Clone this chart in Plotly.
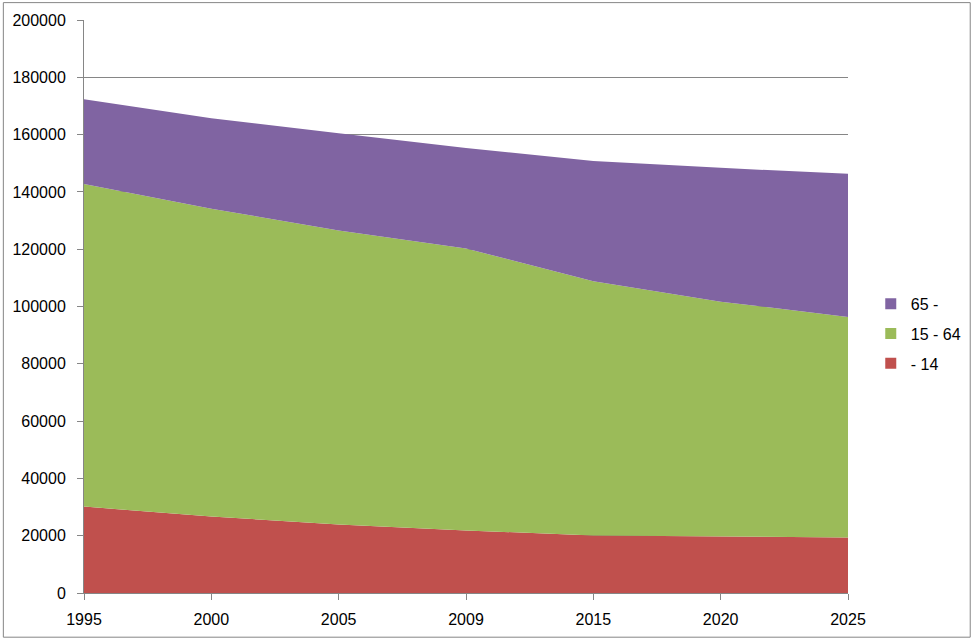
import plotly.graph_objects as go

years = ["1995", "2000", "2005", "2009", "2015", "2020", "2025"]
age_0_14 = [30150, 26700, 23900, 21850, 20100, 19750, 19400]
age_15_64 = [112650, 107450, 102600, 98400, 88700, 81950, 76950]
age_65 = [29500, 31550, 34000, 35050, 42000, 46700, 49950]
series_names = ["- 14", "15 - 64", "65 -"]
colors = ["#C0504D", "#9BBB59", "#8064A2"]
y_ticks = [0, 20000, 40000, 60000, 80000, 100000, 120000, 140000, 160000, 180000, 200000]

xs = list(range(len(years)))
fig = go.Figure()
for name, vals, col in zip(series_names, [age_0_14, age_15_64, age_65], colors):
    fig.add_trace(go.Scatter(
        x=xs, y=vals, name=name, mode="lines", stackgroup="one",
        line=dict(width=0, color=col), fillcolor=col, showlegend=False,
    ))
# legend swatches (square markers, like the reference), top series first
for name, col in zip(series_names[::-1], colors[::-1]):
    fig.add_trace(go.Scatter(
        x=[None], y=[None], name=name, mode="markers", legendgroup=name,
        marker=dict(symbol="square", size=11, color=col), showlegend=True,
    ))

W, H = 978, 640
L, R, T, B = 82, 124, 18, 45
pw, ph = W - L - R, H - T - B

def px_x(p):
    return (p - L) / pw

def px_y(p):
    return (H - B - p) / ph

fig.update_layout(
    width=W, height=H, autosize=False,
    margin=dict(l=L, r=R, t=T, b=B),
    paper_bgcolor="white", plot_bgcolor="white",
    font=dict(family="Liberation Sans, Arial, sans-serif", size=16, color="black"),
    showlegend=True,
    legend=dict(x=px_x(877), y=px_y(334), xanchor="left", yanchor="middle",
                traceorder="grouped", font=dict(size=16), itemwidth=30,
                tracegroupgap=6, bgcolor="rgba(0,0,0,0)"),
    xaxis=dict(
        range=[0, len(years) - 1], tickmode="array", tickvals=xs, ticktext=years,
        showgrid=False, zeroline=False, showline=True, linecolor="#868686", linewidth=1,
        ticks="outside", ticklen=6, tickcolor="#868686", ticklabelstandoff=6,
    ),
    yaxis=dict(
        range=[0, 200000], tickmode="array", tickvals=y_ticks,
        ticktext=[str(v) for v in y_ticks],
        showgrid=True, gridcolor="#868686", gridwidth=1, zeroline=False,
        showline=True, linecolor="#868686", linewidth=1,
        ticks="outside", ticklen=6, tickcolor="#868686", ticklabelstandoff=8,
    ),
    shapes=[dict(
        type="rect", xref="paper", yref="paper",
        x0=px_x(0.5), x1=px_x(W - 0.5), y0=px_y(H - 0.5), y1=px_y(0.5),
        line=dict(color="#868686", width=1), fillcolor="rgba(0,0,0,0)", layer="below",
    )],
)

fig.write_html(
    "out.html",
    config={"responsive": False},
    post_script=(
        "document.documentElement.style.margin='0';"
        "document.documentElement.style.overflow='hidden';"
        "document.body.style.margin='0';"
        "document.body.style.overflow='hidden';"
        "window.scrollTo(0,0);"
    ),
)
